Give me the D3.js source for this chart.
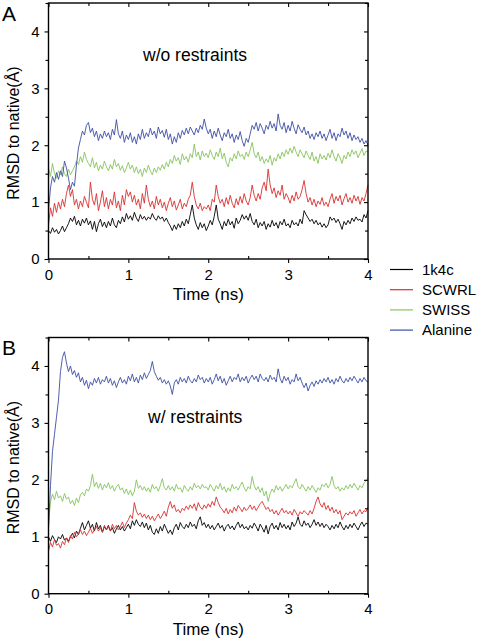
<!DOCTYPE html>
<html>
<head>
<meta charset="utf-8">
<script src="https://cdn.jsdelivr.net/npm/d3@7"></script>
<style>
html,body{margin:0;padding:0;background:#fff;}
svg{display:block;font-family:"Liberation Sans",Arial,sans-serif;}
</style>
</head>
<body>
<svg id="chart" width="478" height="644"></svg>
<script>
// ---- data ----
const timeStep = 0.025; // ns between samples
const seriesNames = ["1k4c", "SCWRL", "SWISS", "Alanine"];
const seriesColors = ["#000000", "#d9302e", "#84c45c", "#3c4ea6"];
const xTicks = [0, 1, 2, 3, 4];
const yTicks = [0, 1, 2, 3, 4];
const panelLabels = ["A", "B"];
const panelNotes = ["w/o restraints", "w/ restraints"];

// Panel A (w/o restraints)
const a1k4c = [0.50,0.45,0.55,0.47,0.52,0.44,0.50,0.58,0.48,0.55,
0.62,0.72,0.66,0.75,0.60,0.68,0.58,0.70,0.63,0.72,
0.60,0.67,0.52,0.66,0.48,0.62,0.70,0.57,0.65,0.55,
0.66,0.58,0.72,0.60,0.55,0.68,0.62,0.74,0.65,0.80,
0.70,0.76,0.68,0.82,0.72,0.66,0.78,0.70,0.75,0.68,
0.74,0.70,0.80,0.72,0.68,0.76,0.70,0.74,0.66,0.72,
0.64,0.58,0.50,0.60,0.52,0.62,0.55,0.66,0.58,0.70,
0.62,0.78,0.95,0.72,0.60,0.52,0.64,0.55,0.62,0.50,
0.58,0.68,0.60,0.75,0.95,0.70,0.62,0.52,0.66,0.58,
0.70,0.60,0.66,0.54,0.72,0.62,0.68,0.78,0.70,0.76,
0.68,0.80,0.66,0.60,0.70,0.55,0.64,0.58,0.66,0.52,
0.62,0.56,0.68,0.58,0.64,0.54,0.66,0.60,0.70,0.58,
0.62,0.55,0.68,0.60,0.64,0.58,0.70,0.62,0.85,0.78,
0.72,0.66,0.70,0.62,0.68,0.60,0.64,0.56,0.62,0.55,
0.60,0.74,0.68,0.72,0.64,0.70,0.62,0.52,0.66,0.60,
0.68,0.62,0.72,0.66,0.74,0.68,0.70,0.65,0.78,0.72,0.85];
const aSCWRL = [0.60,0.90,0.75,0.98,0.82,1.00,0.88,1.05,0.92,1.15,
1.30,1.10,1.22,0.95,1.05,0.88,1.02,0.92,1.10,1.00,
0.90,1.35,1.05,0.95,1.15,0.85,1.00,1.20,0.92,1.08,
0.88,1.05,0.95,1.18,0.90,1.02,0.85,1.12,0.95,1.22,
1.10,1.18,1.00,1.12,0.95,1.05,0.88,1.15,0.98,1.30,
1.05,0.92,1.02,0.88,1.10,0.95,1.05,0.90,1.00,0.85,
0.98,1.08,0.92,1.02,0.86,0.95,1.05,0.88,0.98,0.92,
1.05,1.12,1.35,1.10,0.95,0.88,0.98,0.85,0.92,0.88,
0.95,0.85,1.05,1.00,1.30,1.10,0.98,1.05,0.92,1.08,
0.96,1.12,0.98,0.90,1.06,0.95,1.10,0.98,1.15,1.02,
0.95,1.08,1.30,1.12,1.02,1.15,1.05,1.25,1.35,1.20,
1.58,1.30,1.15,1.25,1.08,1.20,1.12,1.30,1.05,1.15,
1.08,0.98,1.12,1.02,1.18,1.05,1.10,1.22,1.38,1.15,
1.00,1.08,0.95,1.05,0.92,1.02,0.96,1.08,0.94,1.00,
0.92,1.05,1.15,0.98,1.10,1.02,1.12,0.95,1.06,1.15,
1.00,1.08,0.98,1.12,1.02,1.10,0.96,1.08,1.02,1.15,1.30];
const aSWISS = [1.60,1.45,1.68,1.50,1.42,1.55,1.48,1.62,1.50,1.45,
1.58,1.48,1.55,1.62,1.72,1.66,1.80,1.70,1.88,1.75,
1.68,1.62,1.78,1.60,1.70,1.55,1.65,1.58,1.72,1.62,
1.55,1.66,1.58,1.75,1.62,1.68,1.56,1.64,1.52,1.60,
1.70,1.58,1.65,1.52,1.62,1.50,1.58,1.45,1.60,1.52,
1.65,1.55,1.48,1.60,1.52,1.62,1.56,1.66,1.58,1.70,
1.62,1.75,1.68,1.82,1.72,1.78,1.66,1.85,1.74,1.80,
1.70,1.85,1.78,2.02,1.80,1.88,1.74,1.90,1.80,1.86,
1.78,1.92,1.82,1.75,1.88,1.80,1.95,1.76,1.86,1.70,
1.62,1.78,1.72,1.85,1.76,1.90,1.80,1.84,1.75,1.88,
1.80,1.92,2.05,1.85,1.78,1.88,1.72,1.80,1.68,1.76,
1.70,1.82,1.65,1.78,1.72,1.85,1.76,1.88,1.80,1.92,
1.84,1.95,1.86,1.98,1.88,1.80,1.92,1.85,1.78,1.90,
1.82,1.75,1.88,1.72,1.80,1.68,1.85,1.76,1.82,1.74,
1.86,1.78,1.92,1.80,1.72,1.85,1.78,1.68,1.82,1.76,
1.88,1.80,1.92,1.84,1.90,1.78,1.86,1.94,1.82,1.90,1.88];
const aAlanine = [0.85,1.25,1.45,1.35,1.52,1.40,1.55,1.45,1.72,1.60,
1.42,1.22,1.35,1.28,1.65,1.95,2.10,2.25,2.18,2.35,
2.40,2.22,2.30,2.15,2.25,2.08,2.20,2.12,2.25,2.15,
2.22,2.10,2.28,2.18,2.45,2.20,2.12,2.25,2.05,2.18,
2.10,2.22,2.05,2.15,2.02,2.20,2.10,2.28,2.12,2.22,
2.15,2.30,2.18,2.25,2.12,2.32,2.20,2.26,2.14,2.28,
2.10,2.20,2.02,2.15,2.05,2.22,2.12,2.26,2.18,2.30,
2.20,2.32,2.25,2.18,2.30,2.22,2.35,2.28,2.46,2.30,
2.20,2.28,2.12,2.25,2.15,2.30,2.18,2.08,2.22,2.15,
2.28,2.12,2.20,2.05,2.18,2.10,2.24,2.08,1.98,2.12,
2.05,2.20,2.35,2.28,2.40,2.25,2.38,2.30,2.20,2.35,
2.28,2.42,2.30,2.38,2.25,2.55,2.35,2.28,2.40,2.22,
2.35,2.25,2.42,2.30,2.20,2.36,2.28,2.22,2.32,2.18,
2.25,2.12,2.20,2.10,2.22,2.15,2.25,2.12,2.20,2.08,
2.18,2.28,2.12,2.22,2.08,2.20,2.15,2.30,2.18,2.25,
2.12,2.22,2.08,2.18,2.10,2.15,2.05,2.12,2.02,2.08,2.00];

// Panel B (w/ restraints)
const b1k4c = [1.00,0.92,1.02,0.95,0.90,1.00,0.96,1.04,0.94,0.98,
0.92,1.00,1.06,0.98,1.10,1.04,1.15,1.25,1.12,1.20,
1.28,1.15,1.22,1.10,1.25,1.14,1.20,1.08,1.18,1.12,
1.20,1.10,1.16,1.06,1.14,1.20,1.12,1.18,1.10,1.16,
1.22,1.14,1.28,1.20,1.30,1.22,1.18,1.26,1.16,1.24,
1.12,1.20,1.08,1.04,1.14,1.06,1.18,1.10,1.22,1.14,
1.06,1.12,1.04,1.16,1.22,1.12,1.25,1.18,1.14,1.22,
1.16,1.26,1.18,1.22,1.14,1.28,1.35,1.20,1.25,1.16,
1.22,1.14,1.20,1.12,1.18,1.24,1.15,1.20,1.10,1.18,
1.22,1.14,1.19,1.12,1.20,1.26,1.16,1.22,1.14,1.18,
1.12,1.20,1.15,1.24,1.18,1.10,1.22,1.16,1.08,1.20,
1.05,1.18,1.24,1.14,1.20,1.12,1.25,1.16,1.22,1.14,
1.20,1.12,1.26,1.18,1.24,1.35,1.22,1.18,1.28,1.20,
1.24,1.16,1.22,1.30,1.20,1.26,1.18,1.24,1.16,1.22,
1.18,1.12,1.20,1.14,1.22,1.16,1.26,1.18,1.12,1.20,
1.14,1.22,1.16,1.24,1.18,1.12,1.20,1.26,1.18,1.24,1.22];
const bSCWRL = [0.75,0.90,0.82,0.95,0.85,0.88,0.80,0.92,0.86,0.98,
0.90,1.02,0.96,1.08,1.00,1.05,1.12,1.04,1.10,1.02,
1.08,1.15,1.06,1.12,1.18,1.10,1.16,1.08,1.20,1.12,
1.18,1.10,1.22,1.14,1.20,1.12,1.18,1.26,1.16,1.24,
1.30,1.38,1.32,1.60,1.45,1.38,1.42,1.34,1.40,1.32,
1.38,1.30,1.36,1.28,1.34,1.40,1.32,1.38,1.45,1.36,
1.52,1.62,1.50,1.56,1.44,1.48,1.42,1.50,1.46,1.54,
1.48,1.56,1.50,1.58,1.46,1.60,1.52,1.48,1.56,1.50,
1.58,1.52,1.62,1.55,1.70,1.60,1.52,1.48,1.42,1.50,
1.40,1.48,1.42,1.52,1.45,1.55,1.50,1.44,1.52,1.46,
1.50,1.56,1.48,1.54,1.46,1.52,1.58,1.62,1.55,1.48,
1.52,1.44,1.48,1.40,1.46,1.38,1.44,1.50,1.42,1.46,
1.40,1.45,1.38,1.48,1.42,1.36,1.44,1.40,1.46,1.42,
1.38,1.46,1.40,1.50,1.62,1.70,1.58,1.52,1.60,1.48,
1.55,1.45,1.52,1.42,1.48,1.40,1.46,1.30,1.36,1.42,
1.38,1.44,1.40,1.46,1.36,1.42,1.48,1.40,1.46,1.44,1.52];
const bSWISS = [1.20,1.62,1.75,1.65,1.80,1.68,1.72,1.62,1.76,1.66,
1.70,1.58,1.64,1.55,1.68,1.60,1.74,1.78,1.72,1.84,
1.80,1.90,2.10,1.88,1.96,1.85,1.94,1.82,1.92,1.86,
1.95,1.84,1.90,1.80,1.88,1.92,1.82,1.86,1.76,1.84,
1.74,1.82,1.72,1.80,2.00,1.85,1.90,1.82,1.88,1.80,
1.86,1.78,1.92,1.84,1.88,1.80,1.90,2.02,1.86,1.82,
1.90,1.82,1.88,1.80,1.92,1.84,1.86,1.78,1.90,1.84,
1.80,1.88,1.82,1.94,1.86,1.90,1.84,1.92,1.86,1.88,
1.82,1.92,1.86,1.80,1.90,1.84,1.94,1.82,1.88,1.78,
1.86,1.80,1.92,1.84,1.88,1.82,1.90,1.96,1.86,1.80,
1.88,1.84,2.06,1.90,1.82,1.88,1.78,1.86,1.72,1.80,
1.62,1.76,1.84,1.78,1.90,1.82,1.88,1.80,1.86,1.92,
1.84,1.90,1.86,1.94,2.02,1.88,1.84,1.92,1.86,1.80,
1.88,1.82,1.90,1.84,1.78,1.86,1.82,1.92,1.88,1.94,
1.86,1.92,2.06,1.90,1.84,1.88,1.80,1.86,1.82,1.90,
1.84,1.92,1.86,1.94,1.88,1.82,1.90,1.86,1.94,1.98,2.04];
const bAlanine = [1.15,1.90,2.50,2.80,3.10,3.40,3.90,4.15,4.25,4.05,
3.90,4.00,3.85,3.92,3.80,3.88,3.72,3.80,3.66,3.75,
3.60,3.72,3.66,3.78,3.70,3.80,3.68,3.76,3.72,3.82,
3.70,3.78,3.66,3.74,3.62,3.72,3.80,3.70,3.76,3.68,
3.82,3.74,3.86,3.72,3.80,3.70,3.84,3.76,3.88,3.78,
3.85,3.92,4.08,3.90,3.82,3.75,3.80,3.70,3.76,3.68,
3.74,3.65,3.50,3.70,3.76,3.68,3.80,3.72,3.78,3.70,
3.82,3.74,3.70,3.78,3.72,3.84,3.76,3.80,3.70,3.78,
3.72,3.80,3.68,3.76,3.86,3.74,3.82,3.70,3.78,3.66,
3.74,3.82,3.72,3.80,3.76,3.86,3.72,3.80,3.74,3.82,
3.70,3.78,3.84,3.76,3.82,3.72,3.86,3.78,3.74,3.80,
3.72,3.84,3.76,3.80,3.72,3.95,3.78,3.70,3.82,3.74,
3.80,3.68,3.76,3.72,3.86,3.74,3.80,3.70,3.62,3.70,
3.56,3.66,3.72,3.64,3.74,3.68,3.76,3.70,3.78,3.72,
3.80,3.70,3.76,3.68,3.78,3.72,3.82,3.74,3.70,3.78,
3.72,3.80,3.74,3.82,3.76,3.70,3.78,3.72,3.80,3.74,3.72];

const panelSeries = [
  [a1k4c, aSCWRL, aSWISS, aAlanine],
  [b1k4c, bSCWRL, bSWISS, bAlanine]
];

// ---- layout ----
const svg = d3.select("#chart");
const left = 48.5, right = 368;
const panels = [
  {top: 3, bottom: 259, noteX: 143, noteY: 61, labelY: 21},
  {top: 337.5, bottom: 593.7, noteX: 148, noteY: 423, labelY: 355}
];

const x = d3.scaleLinear().domain([0, 4]).range([left, right]);
const xMinor = d3.range(0, 4.01, 0.5).filter(v => v % 1 !== 0);
const yMinor = d3.range(0, 4.51, 0.5).filter(v => v % 1 !== 0);

panels.forEach((p, pi) => {
  const y = d3.scaleLinear().domain([0, 4.5]).range([p.bottom, p.top]);
  const g = svg.append("g");

  // data lines
  const line = d3.line()
    .x((d, i) => x(i * timeStep))
    .y(d => y(d));
  const order = [0, 1, 2, 3];
  order.forEach(si => {
    g.append("path")
      .datum(panelSeries[pi][si])
      .attr("fill", "none")
      .attr("stroke", seriesColors[si])
      .attr("stroke-width", 0.9)
      .attr("stroke-linejoin", "round")
      .attr("d", line);
  });

  const styleAxis = sel => {
    sel.select(".domain").remove();
    sel.selectAll(".tick line").attr("stroke", "#000").attr("stroke-width", 1.1);
    sel.selectAll("text").attr("font-size", 15).attr("fill", "#000")
      .attr("font-family", '"Liberation Sans",Arial,sans-serif');
  };

  // bottom axis
  g.append("g").attr("transform", `translate(0,${p.bottom})`)
    .call(d3.axisBottom(x).tickValues(xTicks).tickSize(4).tickPadding(6).tickFormat(d3.format("d")))
    .call(styleAxis);
  g.append("g").attr("transform", `translate(0,${p.bottom})`)
    .call(d3.axisBottom(x).tickValues(xMinor).tickSize(-3).tickFormat(""))
    .call(styleAxis);
  // top axis (inward)
  g.append("g").attr("transform", `translate(0,${p.top})`)
    .call(d3.axisTop(x).tickValues(xTicks).tickSize(-4).tickFormat(""))
    .call(styleAxis);
  g.append("g").attr("transform", `translate(0,${p.top})`)
    .call(d3.axisTop(x).tickValues(xMinor).tickSize(-3).tickFormat(""))
    .call(styleAxis);
  // left axis
  g.append("g").attr("transform", `translate(${left},0)`)
    .call(d3.axisLeft(y).tickValues(yTicks).tickSize(4).tickPadding(5).tickFormat(d3.format("d")))
    .call(styleAxis);
  g.append("g").attr("transform", `translate(${left},0)`)
    .call(d3.axisLeft(y).tickValues(yMinor).tickSize(3).tickFormat(""))
    .call(styleAxis);
  // right axis (inward)
  g.append("g").attr("transform", `translate(${right},0)`)
    .call(d3.axisRight(y).tickValues(yTicks).tickSize(-4).tickFormat(""))
    .call(styleAxis);
  g.append("g").attr("transform", `translate(${right},0)`)
    .call(d3.axisRight(y).tickValues(yMinor).tickSize(-3).tickFormat(""))
    .call(styleAxis);

  // frame
  g.append("rect")
    .attr("x", left).attr("y", p.top)
    .attr("width", right - left).attr("height", p.bottom - p.top)
    .attr("fill", "none").attr("stroke", "#000").attr("stroke-width", 1.4);

  // axis titles
  g.append("text")
    .attr("x", (left + right) / 2).attr("y", p.bottom + 41)
    .attr("text-anchor", "middle").attr("font-size", 17)
    .text("Time (ns)");
  g.append("text")
    .attr("transform", `translate(19,${(p.top + p.bottom) / 2 + 2}) rotate(-90)`)
    .attr("text-anchor", "middle").attr("font-size", 16)
    .text("RMSD to native(Å)");

  // annotation
  g.append("text")
    .attr("x", p.noteX).attr("y", p.noteY)
    .attr("font-size", 17.5)
    .text(panelNotes[pi]);

  // panel label
  g.append("text")
    .attr("x", 2).attr("y", p.labelY)
    .attr("font-size", 21)
    .text(panelLabels[pi]);
});

// legend
const legendY0 = 269.5, legendDy = 20.2;
const lg = svg.append("g");
seriesNames.forEach((name, i) => {
  const yy = legendY0 + i * legendDy;
  lg.append("line")
    .attr("x1", 390).attr("x2", 413)
    .attr("y1", yy).attr("y2", yy)
    .attr("stroke", seriesColors[i]).attr("stroke-width", 1.2);
  lg.append("text")
    .attr("x", 422).attr("y", yy + 5.3)
    .attr("font-size", 15)
    .text(name);
});
</script>
</body>
</html>
